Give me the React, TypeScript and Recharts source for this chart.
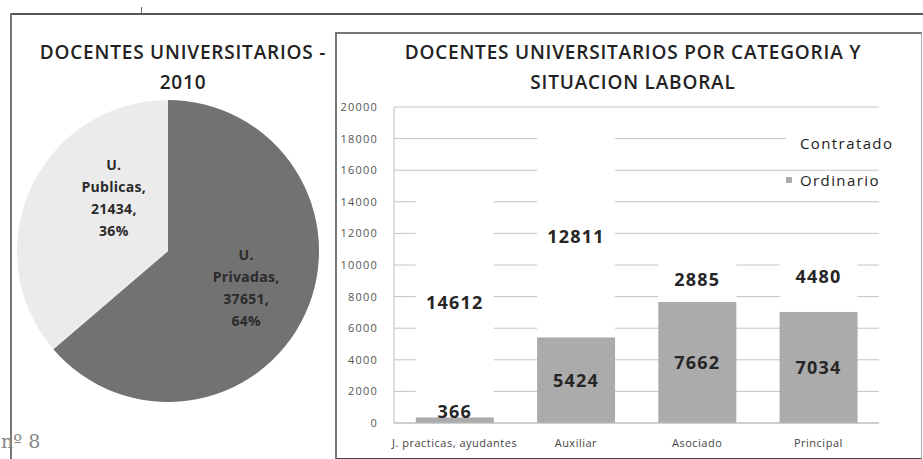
import { PieChart, Pie, Cell, BarChart, Bar, XAxis, YAxis, CartesianGrid, LabelList, Legend } from 'recharts';

const pieNames = ['U. Privadas', 'U. Publicas'];
const pieValues = [37651, 21434];
const pieColors = ['#727272', '#ebebeb'];

const categories = ['J. practicas, ayudantes', 'Auxiliar', 'Asociado', 'Principal'];
const ordinario = [366, 5424, 7662, 7034];
const contratado = [14612, 12811, 2885, 4480];
const yTicks = [0, 2000, 4000, 6000, 8000, 10000, 12000, 14000, 16000, 18000, 20000];

const pieData = pieNames.map((name, i) => ({ name, value: pieValues[i] }));
const barData = categories.map((name, i) => ({ name, Ordinario: ordinario[i], Contratado: contratado[i] }));
const pieTotal = pieValues.reduce((a, b) => a + b, 0);

const FONT = '"Open Sans", "DejaVu Sans", sans-serif';
const RAD = Math.PI / 180;
// Excel's "best fit" put the smaller slice label a bit off the bisector
const labelNudge = [
	[0, 0],
	[24, -18],
];

const renderPieLabel = (props: any) => {
	const { cx, cy, midAngle, outerRadius, index, name, value } = props;
	const r = outerRadius * 0.57;
	const x = cx + r * Math.cos(-midAngle * RAD) + labelNudge[index][0];
	const y = cy + r * Math.sin(-midAngle * RAD) + labelNudge[index][1];
	const [first, ...rest] = String(name).split(' ');
	const lines = [first, rest.join(' ') + ',', value + ',', Math.round((value / pieTotal) * 100) + '%'];
	const lh = 22;
	return (
		<text
			x={x}
			y={y - (lh * (lines.length - 1)) / 2}
			textAnchor="middle"
			dominantBaseline="central"
			fontFamily={FONT}
			fontWeight={700}
			fontSize={14}
			letterSpacing={0.3}
			fill="#2b2b2b"
		>
			{lines.map((l, i) => (
				<tspan key={i} x={x} dy={i === 0 ? 0 : lh}>
					{l}
				</tspan>
			))}
		</text>
	);
};

const renderBarLabel = (props: any) => {
	const vb = props.viewBox ?? props;
	const { x, y, width, height } = vb;
	const cy = height < 20 ? y - 6 : y + height / 2;
	return (
		<text
			x={x + width / 2}
			y={cy}
			textAnchor="middle"
			dominantBaseline="central"
			fontFamily={FONT}
			fontWeight={700}
			fontSize={18}
			letterSpacing={1.2}
			fill="#262626"
		>
			{props.value}
		</text>
	);
};

// Contratado on top, like the Excel legend for a stacked column
const legendOrder = ['Contratado', 'Ordinario'];

const renderLegend = (props: any) => {
	const payload = props.payload || [];
	const items = legendOrder.map((n) => payload.find((p: any) => p.value === n)).filter(Boolean);
	return (
		<div style={{ fontFamily: FONT, fontSize: 15, letterSpacing: 1.4, color: '#222' }}>
			{items.map((it: any, i: number) => (
				<div
					key={it.value}
					style={{
						display: 'flex',
						alignItems: 'center',
						height: i === 0 ? 22 : 18,
						marginTop: i === 0 ? 0 : 17,
						background: i === 0 ? '#fff' : 'transparent',
						whiteSpace: 'nowrap',
					}}
				>
					<span style={{ width: 6, height: 6, background: it.color, marginRight: 8, display: 'inline-block' }} />
					{it.value}
				</div>
			))}
		</div>
	);
};

export default function App() {
	return (
		<div style={styles.page}>
			<div style={{ ...styles.line, left: 10, top: 13, width: 913, height: 2, background: '#555' }} />
			<div style={{ ...styles.line, left: 141, top: 7, width: 1, height: 7, background: '#666' }} />
			<div style={{ ...styles.line, left: 10, top: 13, width: 2, height: 446, background: '#777' }} />

			<div style={{ ...styles.title, left: 23, top: 37, width: 320 }}>
				DOCENTES UNIVERSITARIOS -<br />2010
			</div>
			<div style={{ position: 'absolute', left: 0, top: 0 }}>
				<PieChart width={330} height={459} margin={{ top: 0, right: 0, bottom: 0, left: 0 }}>
					<Pie
						data={pieData}
						dataKey="value"
						nameKey="name"
						cx={168}
						cy={251}
						outerRadius={151}
						startAngle={90}
						endAngle={-270}
						stroke="none"
						label={renderPieLabel}
						labelLine={false}
						isAnimationActive={false}
					>
						{pieData.map((_, i) => (
							<Cell key={i} fill={pieColors[i]} />
						))}
					</Pie>
				</PieChart>
			</div>
			<div style={{ position: 'absolute', left: 1, top: 430, fontFamily: 'DejaVu Serif, serif', fontSize: 19, color: '#888' }}>
				nº 8
			</div>

			<div style={{ position: 'absolute', left: 337, top: 33 }}>
				<BarChart
					width={583}
					height={424}
					data={barData}
					margin={{ top: 74, right: 41, bottom: 4, left: 0 }}
					barCategoryGap="18%"
				>
					<CartesianGrid vertical={false} stroke="#c4c4c4" />
					<XAxis
						dataKey="name"
						axisLine={{ stroke: '#bdbdbd' }}
						tickLine={false}
						tickMargin={10}
						height={30}
						interval={0}
						tick={{ fontSize: 11, fill: '#444', fontFamily: FONT, letterSpacing: 0.5 }}
					/>
					<YAxis
						domain={[0, 20000]}
						ticks={yTicks}
						width={57}
						axisLine={{ stroke: '#bdbdbd' }}
						tickLine={false}
						tickMargin={10}
						tick={{ fontSize: 11, fill: '#555', fontFamily: FONT, letterSpacing: 1.2 }}
					/>
					<Legend
						layout="horizontal"
						verticalAlign="middle"
						align="center"
						content={renderLegend}
						wrapperStyle={{ top: 99, left: 449, width: 140 }}
					/>
					<Bar dataKey="Ordinario" stackId="a" fill="#ababab" isAnimationActive={false}>
						<LabelList dataKey="Ordinario" content={renderBarLabel} />
					</Bar>
					<Bar dataKey="Contratado" stackId="a" fill="#ffffff" isAnimationActive={false}>
						<LabelList dataKey="Contratado" content={renderBarLabel} />
					</Bar>
				</BarChart>
			</div>
			<div style={{ ...styles.title, left: 337, top: 37, width: 592 }}>
				DOCENTES UNIVERSITARIOS POR CATEGORIA Y<br />SITUACION LABORAL
			</div>
			<div style={styles.box} />
		</div>
	);
}

const styles: Record<string, React.CSSProperties> = {
	page: {
		position: 'absolute',
		left: 0,
		top: 0,
		width: 923,
		height: 459,
		overflow: 'hidden',
		background: '#fff',
	},
	line: {
		position: 'absolute',
	},
	title: {
		position: 'absolute',
		textAlign: 'center',
		fontFamily: FONT,
		fontWeight: 600,
		fontSize: 19,
		letterSpacing: 0.8,
		lineHeight: '30px',
		color: '#222',
		whiteSpace: 'nowrap',
	},
	box: {
		position: 'absolute',
		left: 335,
		top: 32,
		width: 584,
		height: 424,
		borderLeft: '2px solid #777',
		borderTop: '2px solid #777',
		borderRight: '1px solid #aaa',
		borderBottom: '2px solid #444',
		pointerEvents: 'none',
	},
};
